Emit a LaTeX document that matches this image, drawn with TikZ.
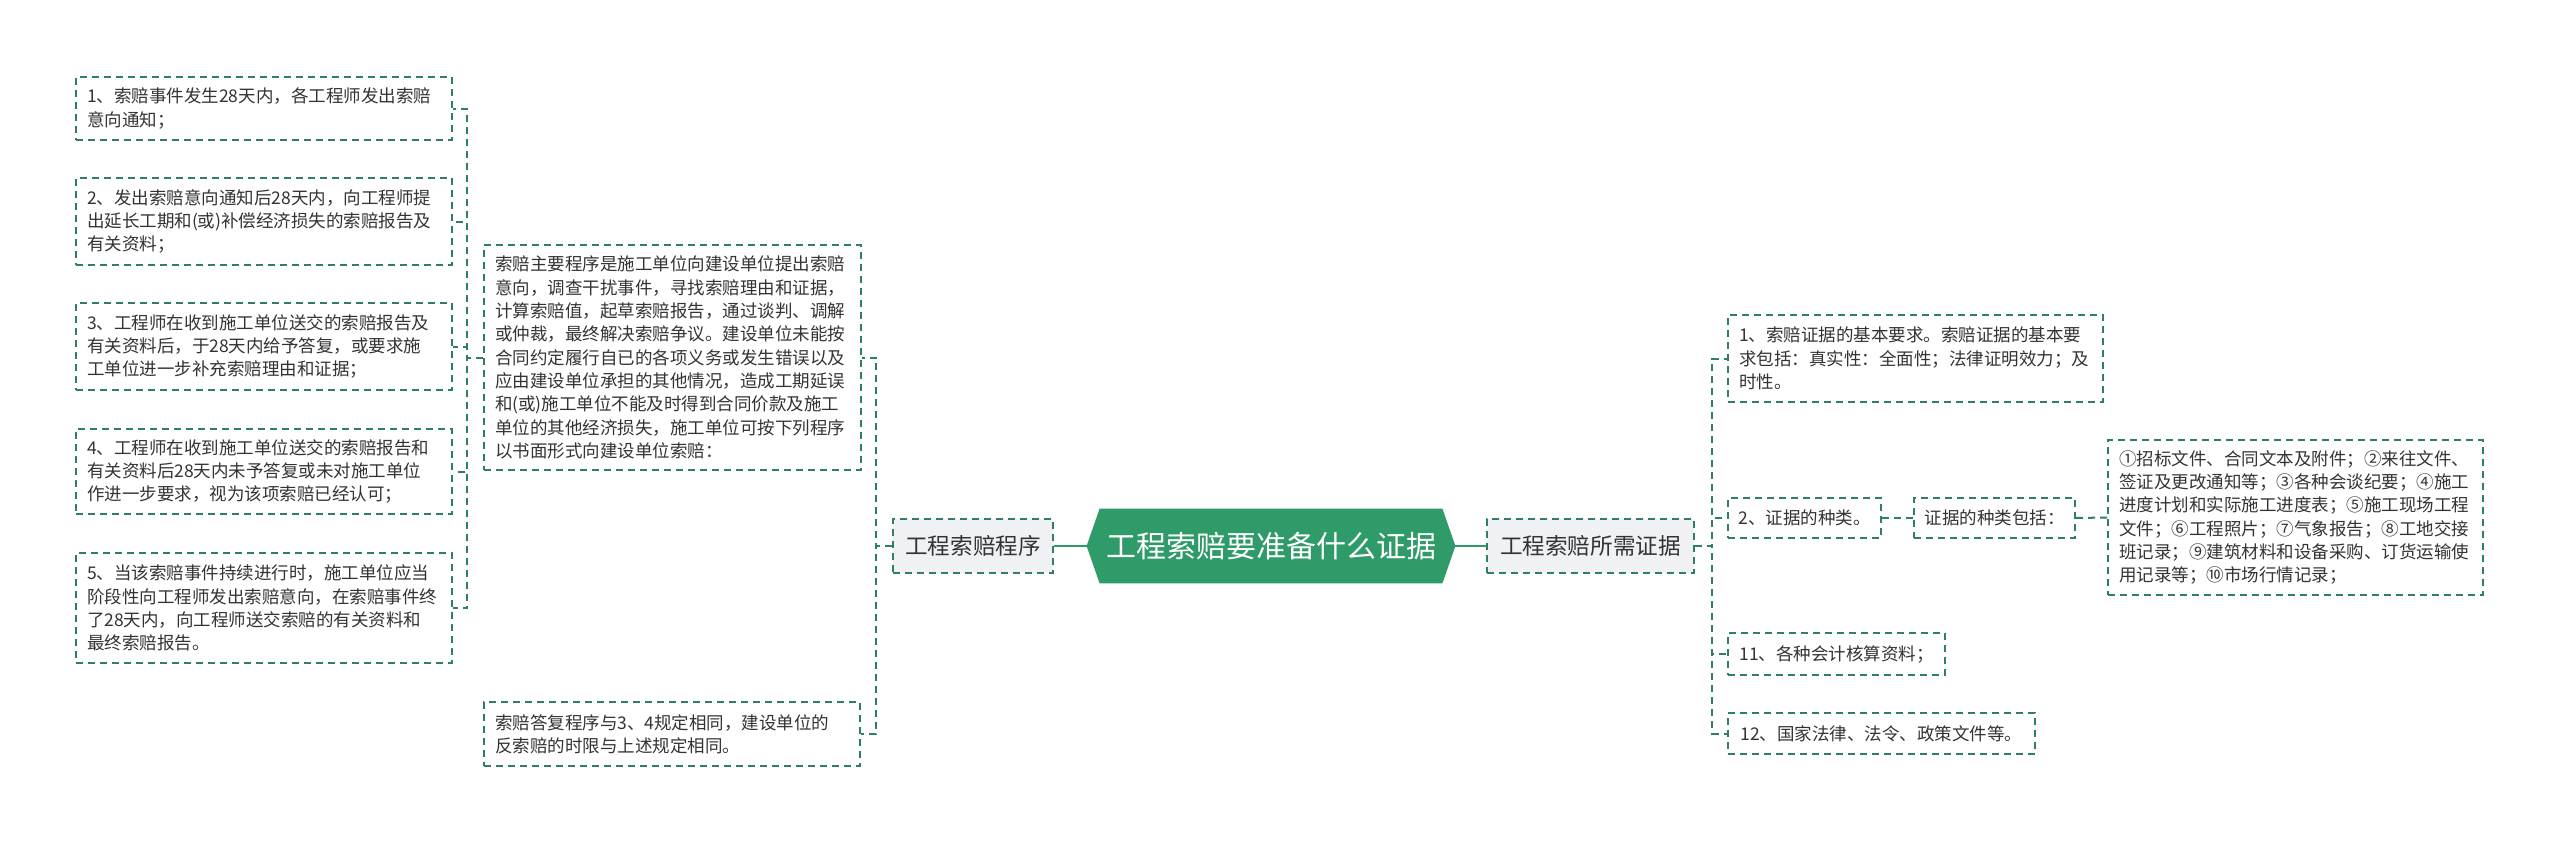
\documentclass[tikz,border=0pt]{standalone}
\usepackage{fontspec}
\setmainfont{Noto Sans CJK SC}
\usetikzlibrary{backgrounds}
\definecolor{lineg}{RGB}{47,128,98}
\definecolor{mainG}{RGB}{46,155,104}
\definecolor{txt}{RGB}{51,51,51}
\definecolor{lgray}{RGB}{239,241,244}
\begin{document}
\begin{tikzpicture}[x=0.5pt,y=-0.5pt,
  box/.style={draw=lineg, line width=1pt, dash pattern=on 3.5pt off 2.5pt,
    text=txt, align=left, inner xsep=5.5pt, inner ysep=0pt,
    font=\fontsize{8.75pt}{11.65pt}\selectfont},
  conn/.style={draw=lineg, line width=1pt, dash pattern=on 3.5pt off 2.5pt},
  solidc/.style={draw=mainG, line width=1.1pt},
  midbox/.style={box, fill=lgray, align=center, inner xsep=0pt,
    minimum height=27pt, font=\fontsize{11.3pt}{14pt}\selectfont},
  centralbox/.style={text=white, inner sep=0pt, minimum width=184pt,
    minimum height=37pt, font=\fontsize{15pt}{18pt}\selectfont},
]
\begin{scope}[on background layer]
\fill[white] (0,0) rectangle (2560,842);
\end{scope}
\useasboundingbox (0,0) rectangle (2560,842);

% central
\node[centralbox] (C) at (1271,546) {工程索赔要准备什么证据};
\begin{scope}[on background layer]
\fill[mainG] (C.west) -- ([xshift=6.5pt]C.north west) -- ([xshift=-6.5pt]C.north east)
  -- (C.east) -- ([xshift=-6.5pt]C.south east) -- ([xshift=6.5pt]C.south west) -- cycle;
\end{scope}

% main branches
\node[midbox, minimum width=80pt] (P) at (973,546) {工程索赔程序};
\node[midbox, minimum width=103.5pt] (R) at (1590.5,546) {工程索赔所需证据};

% left group
\node[box, text width=177.5pt, minimum height=112.5pt] (P1) at (672.5,357.5) {索赔主要程序是施工单位向建设单位提出索赔\\意向，调查干扰事件，寻找索赔理由和证据，\\计算索赔值，起草索赔报告，通过谈判、调解\\或仲裁，最终解决索赔争议。建设单位未能按\\合同约定履行自已的各项义务或发生错误以及\\应由建设单位承担的其他情况，造成工期延误\\和(或)施工单位不能及时得到合同价款及施工\\单位的其他经济损失，施工单位可按下列程序\\以书面形式向建设单位索赔：};
\node[box, text width=177pt, minimum height=32pt] (P2) at (672,734) {索赔答复程序与3、4规定相同，建设单位的\\反索赔的时限与上述规定相同。};

\node[box, text width=177pt, minimum height=31.5pt] (L1) at (264,108.5) {1、索赔事件发生28天内，各工程师发出索赔\\意向通知；};
\node[box, text width=177pt, minimum height=43.5pt] (L2) at (264,221.5) {2、发出索赔意向通知后28天内，向工程师提\\出延长工期和(或)补偿经济损失的索赔报告及\\有关资料；};
\node[box, text width=177pt, minimum height=43.5pt] (L3) at (264,346.5) {3、工程师在收到施工单位送交的索赔报告及\\有关资料后，于28天内给予答复，或要求施\\工单位进一步补充索赔理由和证据；};
\node[box, text width=177pt, minimum height=42.5pt] (L4) at (264,471.5) {4、工程师在收到施工单位送交的索赔报告和\\有关资料后28天内未予答复或未对施工单位\\作进一步要求，视为该项索赔已经认可；};
\node[box, text width=177pt, minimum height=55pt] (L5) at (264,608) {5、当该索赔事件持续进行时，施工单位应当\\阶段性向工程师发出索赔意向，在索赔事件终\\了28天内，向工程师送交索赔的有关资料和\\最终索赔报告。};

% right group
\node[box, text width=176.5pt, minimum height=43.5pt] (R1) at (1915.5,358.5) {1、索赔证据的基本要求。索赔证据的基本要\\求包括：真实性：全面性；法律证明效力；及\\时性。};
\node[box, align=center, inner xsep=0pt, minimum width=76.5pt, minimum height=20pt] (R2) at (1804.5,518) {2、证据的种类。};
\node[box, align=center, inner xsep=0pt, minimum width=80.5pt, minimum height=20pt] (R2a) at (1994.5,518) {证据的种类包括：};
\node[box, text width=176.5pt, minimum height=77.5pt] (R2b) at (2295.5,517.5) {①招标文件、合同文本及附件；②来往文件、\\签证及更改通知等；③各种会谈纪要；④施工\\进度计划和实际施工进度表；⑤施工现场工程\\文件；⑥工程照片；⑦气象报告；⑧工地交接\\班记录；⑨建筑材料和设备采购、订货运输使\\用记录等；⑩市场行情记录；};
\node[box, align=center, inner xsep=0pt, minimum width=108.5pt, minimum height=21pt] (R3) at (1836.5,654) {11、各种会计核算资料；};
\node[box, align=center, inner xsep=0pt, minimum width=153.5pt, minimum height=20.5pt] (R4) at (1881.5,733.5) {12、国家法律、法令、政策文件等。};

% connectors
\draw[solidc] (P.east) -- (C.west);
\draw[solidc] (C.east) -- (R.west);

\draw[conn] (P.west) -- ++(-8pt,0) |- (P1.east);
\draw[conn] (P.west) -- ++(-8pt,0) |- (P2.east);

\foreach \n in {L1,L2,L3,L4,L5}
  \draw[conn] (P1.west) -- ++(-8pt,0) |- (\n.east);

\foreach \n in {R1,R2,R3,R4}
  \draw[conn] (R.east) -- ++(8.5pt,0) |- (\n.west);
\draw[conn] (R2.east) -- (R2a.west);
\draw[conn] (R2a.east) -- (R2b.west);
\end{tikzpicture}
\end{document}
